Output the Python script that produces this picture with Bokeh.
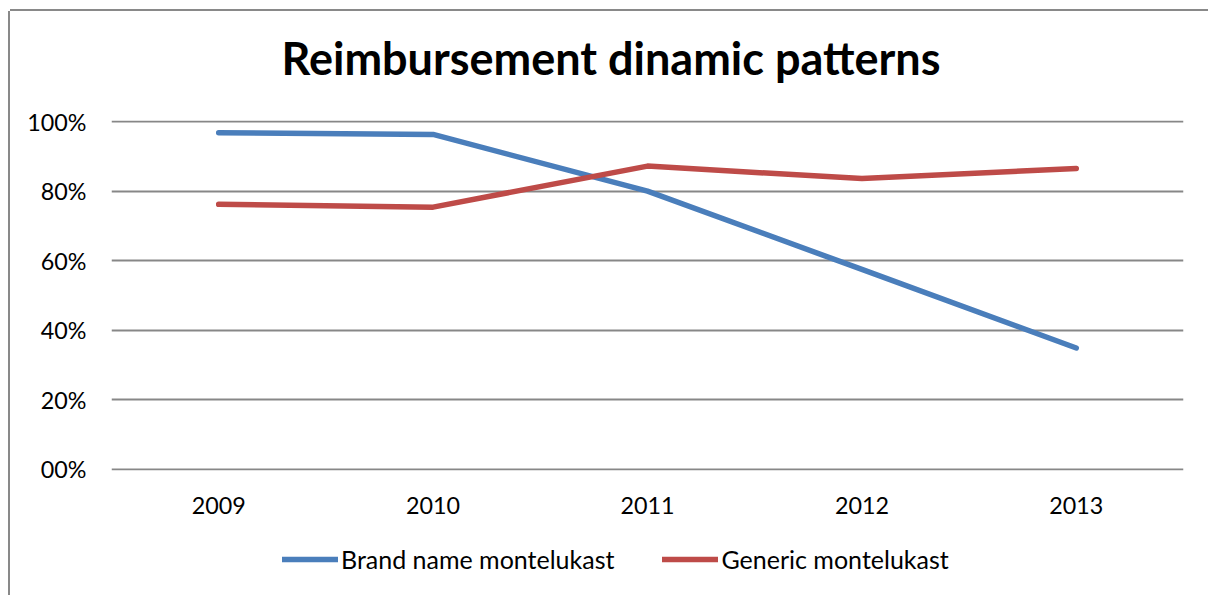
from bokeh.plotting import figure
from bokeh.layouts import column
from bokeh.models import Range1d, FixedTicker, Legend, LegendItem, Title
from bokeh.embed import file_html
from bokeh.resources import INLINE

years = ["2009", "2010", "2011", "2012", "2013"]
brand = [96.8, 96.3, 80.0, 57.5, 34.9]
generic = [76.2, 75.4, 87.2, 83.6, 86.5]
y_ticks = [0, 20, 40, 60, 80, 100]
y_tick_labels = ["00%", "20%", "40%", "60%", "80%", "100%"]
title_text = "Reimbursement dinamic patterns"
series_names = ["Brand name montelukast", "Generic montelukast"]

FONT = "Lato"
BLUE = "#4A7EBB"
RED = "#BE4B48"
xs = [i + 0.5 for i in range(len(years))]

# main chart
p = figure(width=1198, height=525, output_backend="svg", toolbar_location=None,
           x_range=Range1d(0, len(years)), y_range=Range1d(-0.3, 100.3),
           min_border_left=101, min_border_right=25, min_border_top=109,
           min_border_bottom=66, title=title_text)
p.outline_line_color = None
p.background_fill_color = "white"
p.border_fill_color = "white"

p.title.text_font = FONT
p.title.text_font_style = "bold"
p.title.text_font_size = "45px"
p.title.text_color = "black"
p.title.align = "left"
p.title.offset = 170
p.title.standoff = 10

# empty spacer between the title and the plot area
p.add_layout(Title(text=" ", text_font_size="1px", standoff=28), "above")

p.xaxis.ticker = FixedTicker(ticks=xs)
p.xaxis.major_label_overrides = {x: y for x, y in zip(xs, years)}
p.yaxis.ticker = FixedTicker(ticks=y_ticks)
p.yaxis.major_label_overrides = {t: l for t, l in zip(y_ticks, y_tick_labels)}
for ax in (p.xaxis, p.yaxis):
    ax.axis_line_color = None
    ax.major_tick_line_color = None
    ax.minor_tick_line_color = None
    ax.major_label_text_font = FONT
    ax.major_label_text_font_size = "23.3px"
    ax.major_label_text_color = "black"
p.yaxis.major_label_standoff = 19
p.xaxis.major_label_standoff = 20

p.xgrid.grid_line_color = None
p.ygrid.grid_line_color = "#878787"
p.ygrid.grid_line_width = 2
p.ygrid.ticker = FixedTicker(ticks=y_ticks)

p.line(xs, brand, line_color=BLUE, line_width=5.5, line_cap="round", line_join="round")
p.line(xs, generic, line_color=RED, line_width=5.5, line_cap="round", line_join="round")

# legend strip (same series; lines fall outside this strip's view, only the legend shows)
q = figure(width=1198, height=59, output_backend="svg", toolbar_location=None,
           x_range=Range1d(0, len(years)), y_range=Range1d(1000, 1001),
           x_axis_type=None, y_axis_type=None, min_border=0)
q.outline_line_color = None
q.xgrid.grid_line_color = None
q.ygrid.grid_line_color = None
q.border_fill_color = "white"
l1 = q.line(xs, brand, line_color=BLUE, line_width=5.5, line_cap="round")
l2 = q.line(xs, generic, line_color=RED, line_width=5.5, line_cap="round")

legend = Legend(items=[LegendItem(label=series_names[0], renderers=[l1]),
                       LegendItem(label=series_names[1], renderers=[l2])],
                orientation="horizontal", location=(171, 21),
                padding=0, margin=0, spacing=48, label_standoff=3,
                glyph_width=56, glyph_height=30, label_height=30,
                label_text_font=FONT, label_text_font_size="25px",
                label_text_color="black",
                border_line_color=None, background_fill_alpha=0)
q.add_layout(legend, "center")

layout = column(p, q, spacing=0,
                styles={"transform": "translate(10px, 11px)",
                        "box-shadow": "0 -2px 0 0 #898989, -2px 0 0 0 #898989"})

open("out.html", "w").write(file_html(layout, INLINE))
